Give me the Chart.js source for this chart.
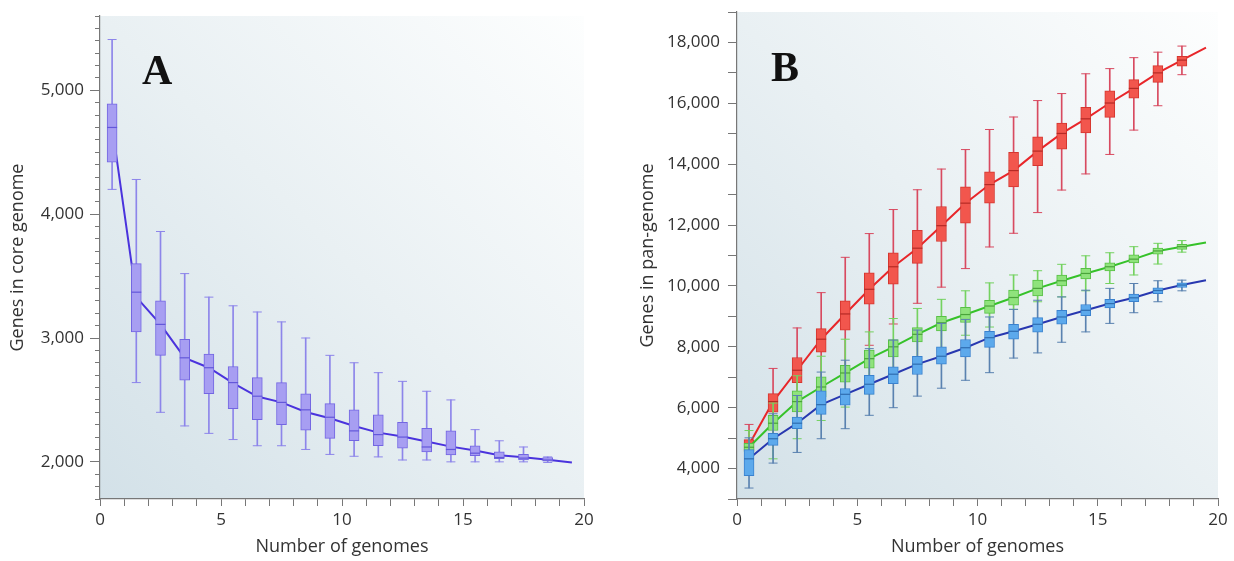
<!DOCTYPE html>
<html>
<head>
  <title>Core and pan-genome</title>
  <script src="https://cdn.jsdelivr.net/npm/chart.js"></script>
  <style>
    body { margin: 0; background: #fff; width: 1234px; height: 561px; overflow: hidden; position: relative; }
    .panel { position: absolute; top: 0; height: 561px; }
    .tag { position: absolute; font: bold 42px "Liberation Serif", serif; line-height: 42px; color: #111; }
  </style>
</head>
<body>
  <div class="panel" style="left: 0; width: 614px;"><canvas id="coreChart"></canvas></div>
  <div class="panel" style="left: 620px; width: 614px;"><canvas id="panChart"></canvas></div>
  <div class="tag" style="left: 142px; top: 49px;">A</div>
  <div class="tag" style="left: 771px; top: 46px;">B</div>

  <script>
    // genome counts where the boxes sit, and where the fitted lines run
    const boxX = [0.5, 1.5, 2.5, 3.5, 4.5, 5.5, 6.5, 7.5, 8.5, 9.5, 10.5, 11.5, 12.5, 13.5, 14.5, 15.5, 16.5, 17.5, 18.5];
    const lineX = [0.5, 1.5, 2.5, 3.5, 4.5, 5.5, 6.5, 7.5, 8.5, 9.5, 10.5, 11.5, 12.5, 13.5, 14.5, 15.5, 16.5, 17.5, 18.5, 19.5];

    // A: core genome
    const coreHigh = [5410, 4280, 3860, 3520, 3330, 3260, 3210, 3130, 3000, 2860, 2800, 2720, 2650, 2570, 2500, 2260, 2170, 2120, 2040];
    const coreQ3 = [4890, 3600, 3300, 2990, 2870, 2770, 2680, 2640, 2550, 2470, 2420, 2380, 2320, 2270, 2250, 2130, 2080, 2060, 2035];
    const coreMed = [4700, 3370, 3110, 2840, 2760, 2640, 2530, 2480, 2420, 2360, 2250, 2220, 2200, 2120, 2100, 2070, 2035, 2030, 2015];
    const coreQ1 = [4420, 3050, 2860, 2660, 2550, 2430, 2340, 2300, 2255, 2190, 2170, 2130, 2110, 2080, 2055, 2050, 2025, 2015, 2005];
    const coreLow = [4200, 2640, 2400, 2290, 2230, 2180, 2130, 2130, 2100, 2060, 2045, 2040, 2015, 2015, 2000, 2000, 2000, 2000, 1995];
    const coreLine = [4710, 3330, 3110, 2840, 2760, 2635, 2527, 2480, 2403, 2352, 2290, 2236, 2204, 2164, 2123, 2091, 2054, 2038, 2016, 1994];

    // B: pan-genome, three groups
    const redHigh = [5450, 7290, 8620, 9780, 10940, 11720, 12510, 13160, 13840, 14480, 15140, 15550, 16090, 16320, 16970, 17140, 17500, 17680, 17880];
    const redQ3 = [4950, 6460, 7650, 8600, 9510, 10430, 11090, 11830, 12610, 13260, 13750, 14390, 14900, 15350, 15870, 16410, 16780, 17240, 17540];
    const redMed = [4780, 6200, 7230, 8250, 9080, 9890, 10630, 11240, 11980, 12720, 13330, 13790, 14430, 15010, 15490, 16010, 16490, 17000, 17420];
    const redQ1 = [4600, 5850, 6820, 7820, 8550, 9400, 10060, 10740, 11460, 12060, 12720, 13250, 13950, 14490, 15030, 15540, 16170, 16690, 17220];
    const redLow = [4300, 5150, 5880, 6750, 7280, 8050, 8750, 9430, 9960, 10570, 11280, 11730, 12410, 13150, 13680, 14320, 15120, 15920, 16940];
    const redEnd = 17830;

    const greenHigh = [5250, 6150, 7050, 7690, 8250, 8490, 8930, 9260, 9560, 9840, 10100, 10360, 10500, 10710, 10990, 11090, 11290, 11400, 11490];
    const greenQ3 = [4830, 5750, 6550, 7010, 7390, 7890, 8240, 8630, 9000, 9300, 9530, 9860, 10190, 10360, 10580, 10760, 11020, 11240, 11370];
    const greenMed = [4700, 5490, 6200, 6680, 7140, 7610, 8000, 8410, 8790, 9060, 9340, 9620, 9920, 10170, 10410, 10630, 10880, 11150, 11290];
    const greenQ1 = [4550, 5250, 5860, 6350, 6840, 7300, 7670, 8160, 8520, 8800, 9100, 9370, 9670, 10000, 10230, 10490, 10760, 11040, 11200];
    const greenLow = [4250, 4320, 4980, 5580, 6020, 6460, 6900, 7340, 7850, 8380, 8650, 9230, 9480, 9640, 9840, 10080, 10360, 10720, 11110];
    const greenEnd = 11430;

    const blueHigh = [5010, 5800, 6400, 7170, 7560, 7940, 8220, 8550, 8770, 8900, 8980, 9230, 9530, 9640, 9860, 9920, 10080, 10170, 10190];
    const blueQ3 = [4620, 5160, 5690, 6550, 6630, 7060, 7340, 7690, 8000, 8240, 8510, 8740, 8960, 9200, 9390, 9560, 9730, 9940, 10100];
    const blueMed = [4320, 4980, 5490, 6100, 6440, 6770, 7100, 7430, 7690, 7970, 8300, 8510, 8740, 8980, 9200, 9420, 9610, 9850, 10030];
    const blueQ1 = [3770, 4760, 5310, 5780, 6080, 6440, 6790, 7090, 7430, 7670, 7980, 8250, 8480, 8740, 9020, 9280, 9480, 9750, 9950];
    const blueLow = [3360, 4180, 4530, 4980, 5310, 5750, 6000, 6380, 6640, 6900, 7150, 7630, 7800, 8150, 8490, 8770, 9120, 9480, 9840];
    const blueEnd = 10190;

    Chart.defaults.font.family = "'Open Sans', sans-serif";
    Chart.defaults.color = '#333';

    // light gradient behind the plot area
    const plotBackground = {
      id: 'plotBackground',
      beforeDraw(chart) {
        const { ctx, chartArea: a } = chart;
        const g = ctx.createLinearGradient(a.left, a.bottom, a.right, a.top);
        g.addColorStop(0, '#d3e1e8');
        g.addColorStop(0.5, '#e9f0f3');
        g.addColorStop(1, '#fdfefe');
        ctx.save();
        ctx.fillStyle = g;
        ctx.fillRect(a.left, a.top, a.right - a.left, a.bottom - a.top);
        ctx.restore();
      }
    };

    function pts(xs, ys) {
      return ys.map((y, i) => ({ x: xs[i], y: y }));
    }

    // one boxplot series: fitted line, whiskers, caps, boxes, medians
    function boxSeries(low, q1, med, q3, high, line, c, base) {
      const caps = pts(boxX, low).concat(pts(boxX, high));
      return [
        { type: 'line', data: pts(lineX, line), borderColor: c.line, borderWidth: 2, pointRadius: 0, tension: 0, order: base + 4 },
        { type: 'bar', data: boxX.map((x, i) => ({ x: x, y: [low[i], high[i]] })), backgroundColor: c.whisker,
          barThickness: 1, grouped: false, borderWidth: 0, order: base + 3 },
        { type: 'scatter', data: caps, pointStyle: 'line', pointRadius: 4.5, pointBorderColor: c.whisker,
          pointBorderWidth: 1, order: base + 3 },
        { type: 'bar', data: boxX.map((x, i) => ({ x: x, y: [q1[i], q3[i]] })), backgroundColor: c.fill,
          borderColor: c.border, borderWidth: 1, borderSkipped: false, barThickness: 10, grouped: false, order: base + 2 },
        { type: 'scatter', data: pts(boxX, med), pointStyle: 'line', pointRadius: 5, pointBorderColor: c.median,
          pointBorderWidth: 1.2, order: base + 1 }
      ];
    }

    function xAxis(height) {
      return {
        type: 'linear', min: 0, max: 20, offset: false,
        afterFit: (s) => { s.height = height; },
        ticks: { stepSize: 1, autoSkip: false, maxRotation: 0, padding: 4, font: { size: 17 },
          callback: (v) => (Math.round(v) % 5 === 0 ? Math.round(v) : '') },
        grid: { drawOnChartArea: false, offset: false, tickLength: 7, tickColor: '#777' },
        border: { color: '#777', width: 1.2 },
        title: { display: true, text: 'Number of genomes', font: { size: 18 }, padding: { top: 0, bottom: 3 } }
      };
    }

    // fixed width for the y axis, and no extra room asked for its end labels
    function fitY(width) {
      return (s) => { s.width = width; s.paddingTop = 0; s.paddingBottom = 0; };
    }

    new Chart(document.getElementById('coreChart'), {
      type: 'bar',
      data: {
        datasets: boxSeries(coreLow, coreQ1, coreMed, coreQ3, coreHigh, coreLine,
          { line: '#4a33dd', whisker: '#8d85ea', fill: '#a79ef2', border: '#7366e2', median: '#6357da' }, 0)
      },
      plugins: [plotBackground],
      options: {
        responsive: true,
        maintainAspectRatio: false,
        animation: false,
        events: [],
        layout: { padding: { top: 16, right: 30, left: 0, bottom: 0 } },
        plugins: { legend: { display: false }, tooltip: { enabled: false } },
        scales: {
          x: xAxis(62),
          y: {
            type: 'linear', min: 1700, max: 5600,
            afterFit: fitY(100),
            ticks: { stepSize: 100, autoSkip: false, padding: 6, font: { size: 17 },
              callback: (v) => (Math.round(v) % 1000 === 0 ? Math.round(v).toLocaleString('en-US') : '') },
            grid: { drawOnChartArea: false, tickLength: 10, tickColor: '#777',
              tickBorderDash: (ctx) => (Math.round(ctx.tick.value) % 1000 === 0 ? [] : [0, 5, 5]) },
            border: { color: '#777', width: 1.2 },
            title: { display: true, text: 'Genes in core genome', font: { size: 18 }, padding: { top: 7, bottom: 0 } }
          }
        }
      }
    });

    new Chart(document.getElementById('panChart'), {
      type: 'bar',
      data: {
        datasets: [].concat(
          boxSeries(redLow, redQ1, redMed, redQ3, redHigh, redMed.concat([redEnd]),
            { line: '#e8262a', whisker: '#d84a60', fill: '#f2564d', border: '#d5362f', median: '#b52a25' }, 20),
          boxSeries(greenLow, greenQ1, greenMed, greenQ3, greenHigh, greenMed.concat([greenEnd]),
            { line: '#36c22a', whisker: '#74d260', fill: '#8fe37c', border: '#58c046', median: '#4aa33a' }, 10),
          boxSeries(blueLow, blueQ1, blueMed, blueQ3, blueHigh, blueMed.concat([blueEnd]),
            { line: '#2838b0', whisker: '#5a82b0', fill: '#5ca9ec', border: '#3a82cf', median: '#2f6db0' }, 0)
        )
      },
      plugins: [plotBackground],
      options: {
        responsive: true,
        maintainAspectRatio: false,
        animation: false,
        events: [],
        layout: { padding: { top: 12, right: 16, left: 0, bottom: 0 } },
        plugins: { legend: { display: false }, tooltip: { enabled: false } },
        scales: {
          x: xAxis(62),
          y: {
            type: 'linear', min: 3000, max: 19000,
            afterFit: fitY(117),
            ticks: { stepSize: 1000, autoSkip: false, padding: 8, font: { size: 17 },
              callback: (v) => (Math.round(v) % 2000 === 0 ? Math.round(v).toLocaleString('en-US') : '') },
            grid: { drawOnChartArea: false, tickLength: 9, tickColor: '#777' },
            border: { color: '#777', width: 1.2 },
            title: { display: true, text: 'Genes in pan-genome', font: { size: 18 }, padding: { top: 17, bottom: 0 } }
          }
        }
      }
    });
  </script>
</body>
</html>
